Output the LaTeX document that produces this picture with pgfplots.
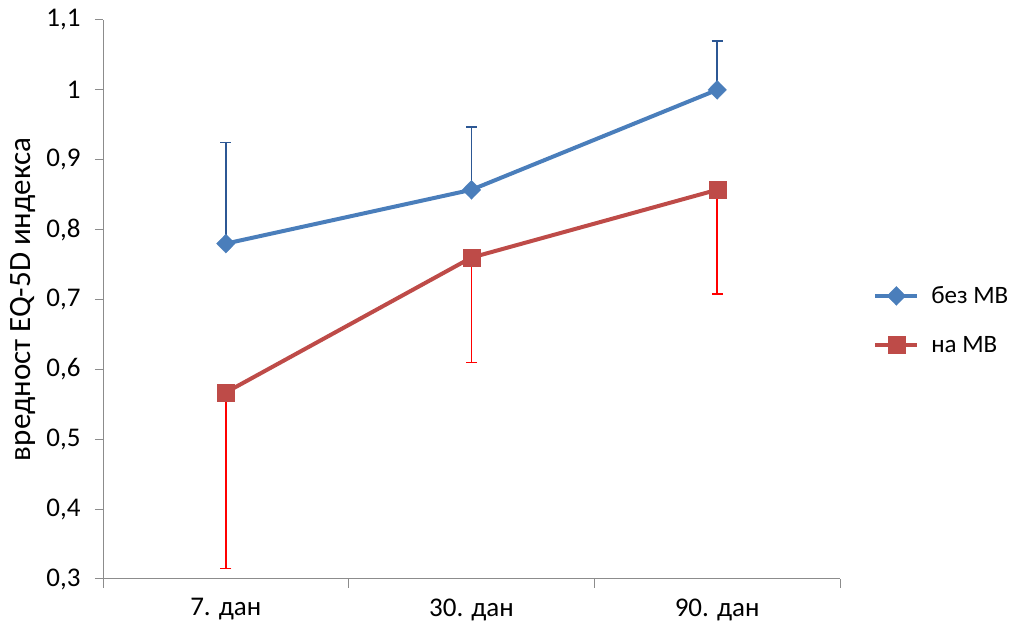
\documentclass[border=0pt]{standalone}
\usepackage{fontspec}
\setmainfont{Carlito}
\usepackage{pgfplots}
\usepackage{pgfplotstable}
\pgfplotsset{compat=1.18}
\definecolor{serA}{HTML}{4A7EBB}
\definecolor{serB}{HTML}{BE4B48}
\definecolor{errA}{HTML}{2C5794}
\definecolor{errB}{HTML}{FF0000}
\definecolor{axgray}{HTML}{8C8C8C}
\pgfplotstableread{
x y e
0 0.780 0.145
1 0.857 0.090
2 1.000 0.070
}\bezMB
\pgfplotstableread{
x y e
0 0.567 0.252
1 0.760 0.150
2 0.857 0.149
}\naMB
\begin{document}
\begin{tikzpicture}[x=1pt,y=1pt]
\path[use as bounding box] (0,0) rectangle (1013,631);
\begin{axis}[
  at={(103pt,52pt)}, anchor=south west,
  scale only axis, width=737pt, height=559pt,
  xmin=-0.5, xmax=2.5, ymin=0.3, ymax=1.1,
  axis lines*=left,
  axis line style={axgray, line width=1pt, -},
  every tick/.style={axgray, line width=1pt},
  tick align=outside,
  xtick={0,1,2}, xticklabels={7. дан,30. дан,90. дан},
  major x tick style={draw=none},
  minor xtick={-0.5,0.5,1.5,2.5},
  minor tick length=9pt,
  ytick={0.3,0.4,...,1.1},
  major tick length=8pt,
  /pgf/number format/use comma,
  /pgf/number format/assume math mode=true,
  ticklabel style={font=\fontsize{27}{32}\selectfont, text=black},
  yticklabel style={xshift=-11pt},
  xticklabel style={yshift=-8pt},
  ylabel={вредност EQ-5D индекса},
  ylabel style={at={(axis description cs:-0.108,0.5)}, anchor=center, font=\fontsize{31}{36}\selectfont},
  legend style={at={(1.045,0.463)}, anchor=west, draw=none, fill=none,
    font=\fontsize{25}{30}\selectfont, row sep=27pt, inner sep=0pt,
    cells={anchor=west}},
  legend image code/.code={\draw[mark repeat=2,mark phase=2,#1] plot coordinates {(0pt,0pt) (21pt,0pt) (42pt,0pt)}; \path (52pt,0pt);},
]
\addplot[serA, line width=4pt, mark=diamond*, mark size=9.5pt,
  mark options={solid, line width=0.3pt, fill=serA, draw=serA, xscale=1.3},
  error bars/.cd, y dir=plus, y explicit,
  error bar style={errA, line width=1.4pt},
  error mark options={errA, rotate=90, mark size=5.5pt, line width=1.4pt}]
  table[x=x, y=y, y error=e]{\bezMB};
\addlegendentry{без МВ}
\addplot[serB, line width=4pt, mark=square*, mark size=8.5pt,
  mark options={solid, line width=0.3pt, fill=serB, draw=serB},
  error bars/.cd, y dir=minus, y explicit,
  error bar style={errB, line width=1.4pt},
  error mark options={errB, rotate=90, mark size=5.5pt, line width=1.4pt}]
  table[x=x, y=y, y error=e]{\naMB};
\addlegendentry{на МВ}
\end{axis}
\end{tikzpicture}
\end{document}
